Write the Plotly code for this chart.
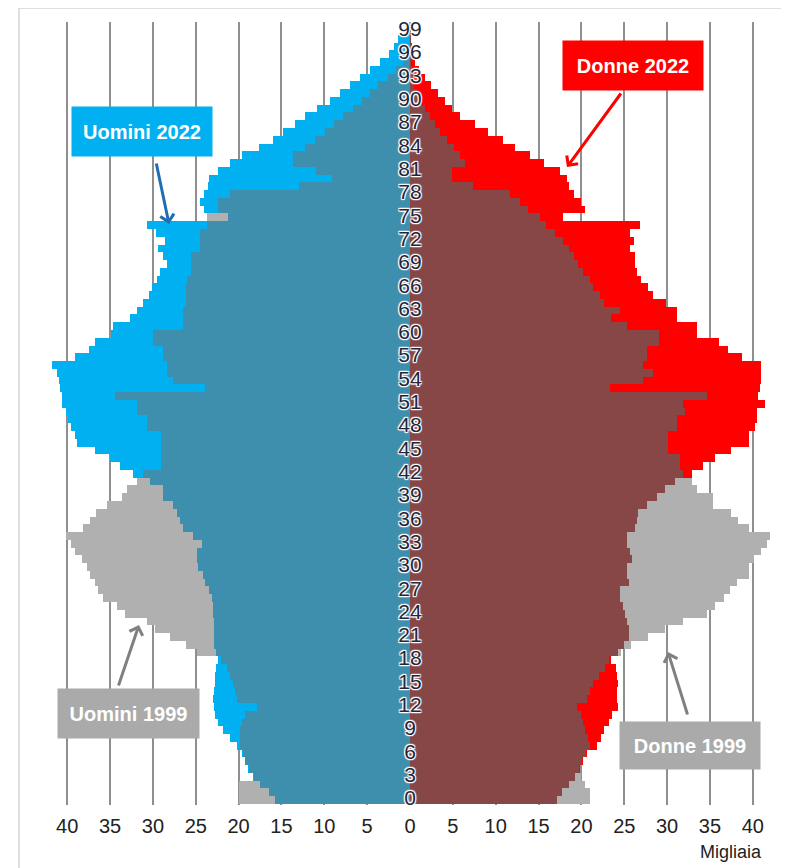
import plotly.graph_objects as go

# ---------------- data (thousands) ----------------
ages = list(range(100))

men_1999 = [20.0, 20.0, 19.9, 18.2, 18.8, 19.2, 19.5, 19.8, 19.8, 19.8,
            19.6, 19.3, 17.9, 20.2, 20.4, 20.6, 21.0, 21.4, 22.0, 24.9,
            26.1, 28.0, 29.8, 30.7, 33.3, 34.2, 35.8, 36.4, 36.8, 37.3,
            37.7, 38.3, 39.1, 39.5, 40.1, 38.2, 37.3, 36.6, 35.4, 33.6,
            33.0, 31.9, 31.1, 29.0, 29.0, 29.0, 29.0, 29.0, 30.7, 30.7,
            31.9, 31.9, 34.4, 23.9, 27.6, 28.4, 28.4, 28.8, 28.8, 30.0,
            30.0, 26.5, 26.5, 26.5, 26.1, 26.1, 26.1, 26.0, 25.5, 25.5,
            25.5, 24.5, 24.5, 24.5, 23.7, 23.7, 22.4, 22.4, 21.0, 13.0,
            9.1, 11.0, 13.6, 13.6, 12.2, 11.1, 9.9, 8.9, 7.8, 6.7,
            5.6, 4.7, 3.7, 2.6, 1.6, 0.8, 0.3, 0.1, 0.05, 0.02]

men_2022 = [15.8, 16.5, 17.5, 18.3, 18.9, 19.3, 19.6, 20.2, 21.0, 21.8,
            22.4, 22.75, 22.9, 22.95, 22.9, 22.75, 22.7, 22.6, 22.4, 22.6,
            22.9, 22.9, 22.9, 22.9, 23.0, 23.0, 23.1, 23.5, 23.9, 24.1,
            24.7, 24.9, 24.9, 24.3, 25.3, 26.5, 26.8, 27.2, 27.6, 28.8,
            28.8, 30.3, 32.3, 33.8, 35.0, 36.8, 38.9, 39.1, 39.5, 39.9,
            40.1, 40.6, 40.6, 40.8, 41.0, 41.2, 41.8, 39.1, 37.5, 36.8,
            34.9, 34.6, 32.7, 31.9, 31.1, 30.4, 30.1, 29.5, 29.2, 28.4,
            28.8, 29.4, 28.6, 29.6, 30.7, 21.2, 24.0, 24.5, 24.0, 23.6,
            23.5, 22.4, 21.0, 19.6, 17.6, 16.0, 14.8, 13.4, 12.3, 10.9,
            9.3, 8.2, 7.0, 5.8, 4.7, 3.5, 2.5, 1.9, 1.4, 0.4]

women_1999 = [21.0, 21.0, 20.4, 20.0, 19.7, 20.1, 20.5, 21.0, 20.8, 20.4,
              20.2, 20.0, 19.45, 20.6, 21.0, 21.4, 22.0, 22.75, 23.2, 24.6,
              25.8, 27.8, 29.8, 31.9, 34.6, 35.6, 36.6, 37.3, 38.1, 39.5,
              39.5, 40.1, 41.0, 41.6, 42.0, 39.5, 38.3, 37.5, 35.4, 35.4,
              33.5, 32.9, 31.9, 31.5, 31.5, 30.1, 30.1, 30.1, 31.1, 31.1,
              32.1, 31.9, 34.6, 23.3, 27.2, 28.4, 27.2, 27.6, 27.6, 29.0,
              29.0, 25.3, 23.5, 24.5, 22.6, 22.2, 21.4, 21.0, 20.2, 19.6,
              19.1, 18.5, 17.9, 16.9, 15.9, 15.2, 13.8, 12.8, 11.7, 7.4,
              4.9, 4.9, 6.4, 5.8, 5.1, 4.3, 3.5, 2.9, 2.3, 1.75,
              1.2, 0.8, 0.5, 0.3, 0.2, 0.1, 0.05, 0.03, 0.02, 0.01]

women_2022 = [17.1, 17.7, 18.5, 19.3, 19.8, 20.2, 20.6, 21.8, 22.3, 22.6,
              23.2, 23.6, 24.3, 24.1, 24.2, 24.3, 24.2, 24.0, 23.5, 24.3,
              25.0, 25.5, 25.5, 25.3, 25.1, 24.8, 24.5, 24.5, 25.5, 25.3,
              25.3, 25.9, 25.7, 25.3, 25.3, 26.3, 26.5, 26.6, 27.6, 28.8,
              29.8, 30.9, 32.9, 34.2, 35.6, 37.5, 39.5, 39.5, 40.3, 40.5,
              40.5, 41.4, 40.6, 40.8, 41.0, 41.0, 41.0, 38.7, 37.1, 36.0,
              33.5, 33.5, 31.1, 31.1, 29.9, 28.4, 27.8, 27.0, 26.5, 26.3,
              26.2, 25.7, 26.1, 25.7, 26.8, 17.9, 20.4, 20.0, 19.1, 18.5,
              18.3, 17.5, 15.6, 14.0, 12.2, 10.9, 9.1, 7.6, 5.8, 4.9,
              4.1, 3.3, 2.5, 1.75, 1.0, 0.6, 0.4, 0.2, 0.1, 0.05]

label_ages = ages[::3]
x_ticks = [-40, -35, -30, -25, -20, -15, -10, -5, 0, 5, 10, 15, 20, 25, 30, 35, 40]
x_tick_text = [str(abs(v)) for v in x_ticks]

# ---------------- styles ----------------
GRAY = "#b0b0b0"
BLUE = "#00b0f0"
TEAL = "#3d8fad"
RED = "#ff0000"
BROWN = "#874747"
FONT = "Liberation Sans, Arial, sans-serif"

OFF = 8                      # the page body margin shifts the figure by 8 px
W, H = 789 - OFF, 868 - OFF  # figure size
PL, PT, PB, PR = 19, 22, 805, 789   # plot area in page pixels
PX0 = 410.0      # page pixel of value 0
PXU = 8.57       # pixels per thousand
AGE0 = 800.1     # page pixel y of age 0 centre
AGEU = 7.77      # pixels per year

def xd(px):
    return (px - PX0) / PXU

def yd(py):
    return (AGE0 - py) / AGEU

def px_paper_x(px):
    return (px - PL) / (PR - PL)

def px_paper_y(py):
    return (PB - py) / (PB - PT)

fig = go.Figure()

def add_side(old, new, col_new, col_overlap, sign):
    fig.add_trace(go.Bar(y=ages, x=[sign * v for v in old], orientation="h",
                         marker=dict(color=GRAY, line=dict(width=0)), width=1,
                         hoverinfo="skip", showlegend=False))
    fig.add_trace(go.Bar(y=ages, x=[sign * v for v in new], orientation="h",
                         marker=dict(color=col_new, line=dict(width=0)), width=1,
                         hoverinfo="skip", showlegend=False))
    fig.add_trace(go.Bar(y=ages, x=[sign * min(a, b) for a, b in zip(old, new)],
                         orientation="h",
                         marker=dict(color=col_overlap, line=dict(width=0)), width=1,
                         hoverinfo="skip", showlegend=False))

add_side(men_1999, men_2022, BLUE, TEAL, -1)
add_side(women_1999, women_2022, RED, BROWN, 1)

halo = ("1px 1px 1px #ffffff, -1px -1px 1px #ffffff, 1px -1px 1px #ffffff, "
        "-1px 1px 1px #ffffff, 0px 1px 1px #ffffff, 0px -1px 1px #ffffff")
fig.add_trace(go.Scatter(x=[0] * len(label_ages), y=label_ages, mode="text",
                         text=[str(a) for a in label_ages],
                         textposition="middle center",
                         textfont=dict(family=FONT, size=21, color="#23263a", shadow=halo),
                         hoverinfo="skip", showlegend=False, cliponaxis=False))

fig.update_layout(
    width=W, height=H,
    margin=dict(l=PL - OFF, r=W - (PR - OFF), t=PT - OFF, b=H - (PB - OFF), autoexpand=False),
    paper_bgcolor="white", plot_bgcolor="white",
    barmode="overlay", bargap=0,
    showlegend=False,
    xaxis=dict(range=[xd(PL), xd(PR)], tickvals=x_ticks, ticktext=x_tick_text,
               showgrid=True, gridcolor="#8f8f8f", gridwidth=1.6, zeroline=False,
               showline=False, ticks="outside", ticklen=3, tickcolor="rgba(0,0,0,0)",
               tickfont=dict(family=FONT, size=20, color="#222222"), fixedrange=True),
    yaxis=dict(range=[yd(PB), yd(PT)], showgrid=False, zeroline=False,
               showticklabels=False, showline=False, fixedrange=True),
)

# frame (cropped on right / bottom)
fig.add_shape(type="line", xref="paper", yref="paper",
              x0=px_paper_x(19), x1=px_paper_x(800), y0=px_paper_y(8), y1=px_paper_y(8),
              line=dict(color="#d4d4d4", width=1.5))
fig.add_shape(type="line", xref="paper", yref="paper",
              x0=px_paper_x(19), x1=px_paper_x(19), y0=px_paper_y(8), y1=px_paper_y(880),
              line=dict(color="#d4d4d4", width=1.5))

# label boxes
boxes = [
    ("Uomini 2022", 142, 131, BLUE, 140, 49),
    ("Donne 2022", 633, 65, RED, 140, 49),
    ("Uomini 1999", 128, 713, "#aaaaaa", 141, 49),
    ("Donne 1999", 690, 745, "#aaaaaa", 140, 47),
]
for txt, cx, cy, bg, w, h in boxes:
    fig.add_annotation(x=xd(cx), y=yd(cy), xref="x", yref="y", text="<b>%s</b>" % txt,
                       showarrow=False, bgcolor=bg, width=w, height=h, borderpad=0,
                       xanchor="center", yanchor="middle",
                       align="center", valign="middle",
                       font=dict(family=FONT, size=20, color="white"))

arrows = [
    ((156, 162), (169, 224), "#1f6db5"),
    ((622, 92), (567, 167), RED),
    ((118, 687), (139, 625), "#808080"),
    ((688, 716), (668, 652), "#808080"),
]
for (tx, ty), (hx, hy), col in arrows:
    fig.add_annotation(x=xd(hx), y=yd(hy), ax=xd(tx), ay=yd(ty), xref="x", yref="y",
                       axref="x", ayref="y", text="", showarrow=True, arrowhead=4,
                       arrowsize=0.9, arrowwidth=3, arrowcolor=col, standoff=0)

fig.add_annotation(x=px_paper_x(731), y=px_paper_y(852), xref="paper", yref="paper",
                   xanchor="center", yanchor="middle",
                   text="Migliaia", showarrow=False,
                   font=dict(family=FONT, size=18, color="#222222"))

fig.write_html("out.html")
